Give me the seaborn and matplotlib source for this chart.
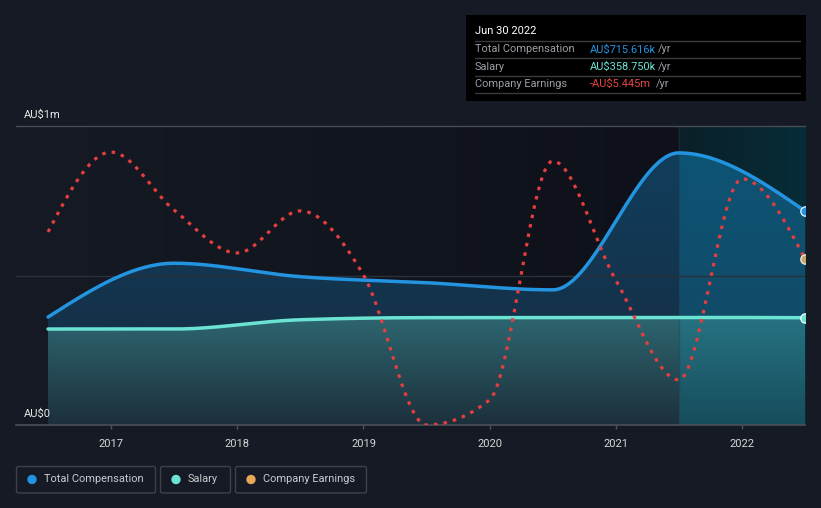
import numpy as np
import pandas as pd
import seaborn as sns
import matplotlib.pyplot as plt
from matplotlib.patches import FancyBboxPatch, Rectangle
from matplotlib.colors import LinearSegmentedColormap
from matplotlib.transforms import IdentityTransform

# compensation is yearly (Jun 30), earnings half-yearly
comp_period = [2016.5, 2017.5, 2018.5, 2019.5, 2020.5, 2021.5, 2022.5]
total_comp_k = [361, 541, 496, 476, 452, 910, 715.616]
salary_k = [321, 321, 352, 359, 359, 360, 358.75]

earn_period = [2016.5, 2017.0, 2017.5, 2018.0, 2018.5, 2019.0, 2019.5,
               2020.0, 2020.5, 2021.0, 2021.5, 2022.0, 2022.5]
earnings_m = [-4.38, -1.23, -3.52, -5.21, -3.55, -6.08, -12.0,
              -11.01, -1.58, -6.28, -10.22, -2.29, -5.445]
year_ticks = [2017, 2018, 2019, 2020, 2021, 2022]

W, H = 821, 508
BG = "#151a24"
BLUE = "#2394df"
CYAN = "#6be3d3"
RED = "#e53e3e"
ORANGE = "#e8a857"


def monotone(x, y, n=60):
    # monotone cubic (same idea as d3 curveMonotoneX) so the lines look smooth
    x = np.asarray(x, float)
    y = np.asarray(y, float)
    h = np.diff(x)
    s = np.diff(y) / h
    t = np.zeros_like(y)
    for i in range(1, len(y) - 1):
        p = (s[i - 1] * h[i] + s[i] * h[i - 1]) / (h[i - 1] + h[i])
        sg = (1 if s[i - 1] >= 0 else -1) + (1 if s[i] >= 0 else -1)
        t[i] = sg * min(abs(s[i - 1]), abs(s[i]), 0.5 * abs(p))
    t[0] = (3 * s[0] - t[1]) / 2
    t[-1] = (3 * s[-1] - t[-2]) / 2
    xs, ys = [], []
    for i in range(len(h)):
        u = np.linspace(0, 1, n, endpoint=(i == len(h) - 1))
        h00 = 2 * u**3 - 3 * u**2 + 1
        h10 = u**3 - 2 * u**2 + u
        h01 = -2 * u**3 + 3 * u**2
        h11 = u**3 - u**2
        ys.append(h00 * y[i] + h10 * h[i] * t[i] + h01 * y[i + 1] + h11 * h[i] * t[i + 1])
        xs.append(x[i] + u * h[i])
    return np.concatenate(xs), np.concatenate(ys)


cx, tot = monotone(comp_period, np.array(total_comp_k) / 1000)
_, sal = monotone(comp_period, np.array(salary_k) / 1000)
comp = pd.DataFrame({"x": cx, "total": tot, "salary": sal})
ex, earn = monotone(earn_period, earnings_m, n=30)
earn_df = pd.DataFrame({"x": ex, "earnings": earn})

sns.set_theme(style="dark")
plt.rcParams["font.family"] = ["Roboto", "DejaVu Sans"]

fig = plt.figure(figsize=(W / 100, H / 100), dpi=100, facecolor=BG)
ax = fig.add_axes([16 / W, (H - 425) / H, (805 - 16) / W, 299 / H])
ax.set_facecolor(BG)
x_left = 2016.5 - 32 / 126
x_hl = 2021.5
x_end = 2022.5


def hgrad(ax, c0, c1, x0, x1, z):
    cmap = LinearSegmentedColormap.from_list("", [c0, c1])
    ax.imshow(np.linspace(0, 1, 1024).reshape(1, -1), cmap=cmap, aspect="auto",
              origin="lower", extent=[x0, x1, 0, 1], zorder=z, interpolation="nearest")


def vgrad_fill(ax, x, y, bot, top, x0, x1, ymax, z):
    poly = ax.fill_between(x, 0, y, color="none", lw=0)
    cmap = LinearSegmentedColormap.from_list("", [bot, top])
    img = ax.imshow(np.linspace(0, 1, 1024).reshape(-1, 1), cmap=cmap, aspect="auto",
                    origin="lower", extent=[x0, x1, 0, ymax], zorder=z,
                    interpolation="nearest")
    img.set_clip_path(poly.get_paths()[0], transform=ax.transData)


# backgrounds
hgrad(ax, "#151a24", "#0e1119", x_left, x_hl, 0.1)
hgrad(ax, "#0b1f28", "#062d38", x_hl, x_end, 0.2)

# area fills
vgrad_fill(ax, comp["x"], comp["total"], "#172a3f", "#10405f", 2016.5, x_end, 1.0, 1)
vgrad_fill(ax, comp["x"], comp["total"], "#134660", "#0d5577", x_hl, x_end, 1.0, 1.1)
vgrad_fill(ax, comp["x"], comp["salary"], "#1c303b", "#2d6670", 2016.5, x_end, 0.36, 1.2)
vgrad_fill(ax, comp["x"], comp["salary"], "#174c5c", "#267382", x_hl, x_end, 0.36, 1.3)

ax.axhline(0.5, color="#2b313b", lw=1, zorder=1.4)
ax.axvline(x_hl, color="#1f3d4b", lw=1, alpha=0.45, zorder=1.5)

sns.lineplot(data=comp, x="x", y="total", ax=ax, color=BLUE, lw=2.5, estimator=None, zorder=3)
sns.lineplot(data=comp, x="x", y="salary", ax=ax, color=CYAN, lw=2.5, estimator=None, zorder=3)
ax.scatter([comp_period[-1]], [total_comp_k[-1] / 1000], s=45, color=BLUE,
           edgecolor="#d8ecff", lw=1, zorder=5)
ax.scatter([comp_period[-1]], [salary_k[-1] / 1000], s=45, color=CYAN,
           edgecolor="#e8fffb", lw=1, zorder=5)

ax.set_xlim(x_left, x_end)
ax.set_ylim(0, 1)
ax.set_xlabel("")
ax.set_ylabel("")
ax.set_yticks([])
ax.set_xticks(year_ticks)
ax.set_xticklabels([str(y) for y in year_ticks])
ax.tick_params(axis="x", colors="#4b5059", length=3, width=1, pad=7,
               labelcolor="#d6d6d6", labelsize=8, bottom=True)
for side in ["left", "right"]:
    ax.spines[side].set_visible(False)
ax.spines["bottom"].set_color("#4b5059")
ax.spines["bottom"].set_linewidth(1.2)
ax.spines["top"].set_color("#464b54")
ax.spines["top"].set_linewidth(1)
ax.grid(False)

# earnings on its own hidden scale
ax2 = ax.twinx()
sns.lineplot(data=earn_df, x="x", y="earnings", ax=ax2, color=RED, lw=2.3,
             estimator=None, linestyle=(0, (1.1, 1.9)), zorder=4)
ax2.scatter([earn_period[-1]], [earnings_m[-1]], s=45, color="#c4a46c",
            edgecolor="#f0e6d0", lw=1, zorder=5)
ax2.set_ylim(-12, -0.2)
ax2.set_xlim(x_left, x_end)
ax2.set_ylabel("")
ax2.set_yticks([])
ax2.grid(False)
for sp in ax2.spines.values():
    sp.set_visible(False)


def ptext(x, y, s, **kw):
    fig.text(x, H - y, s, transform=IdentityTransform(), **kw)


ptext(24, 115, "AU$1m", color="#e6e6e6", fontsize=8, va="center")
ptext(24, 414, "AU$0", color="#e6e6e6", fontsize=8, va="center")

# tooltip box
fig.add_artist(Rectangle((466, H - 101), 340, 86, transform=IdentityTransform(),
                         facecolor="#000000", edgecolor="none"))
ptext(475, 31, "Jun 30 2022", color="#ffffff", fontsize=8, va="center")
for yy in [41, 58, 76, 93]:
    fig.add_artist(plt.Line2D([475, 800], [H - yy, H - yy], transform=IdentityTransform(),
                              color="#3a3a3a", lw=1))
rows = [("Total Compensation", "AU$715.616k", BLUE, 49.5, 658),
        ("Salary", "AU$358.750k", CYAN, 66.5, 658),
        ("Company Earnings", "-AU$5.445m", "#e84545", 84, 656)]
for lab, val, col, yy, xr in rows:
    ptext(475, yy, lab, color="#9a9ea4", fontsize=7.9, va="center")
    ptext(590, yy, val, color=col, fontsize=7.9, va="center")
    ptext(xr, yy, "/yr", color="#9a9ea4", fontsize=7.9, va="center")

# legend boxes
legend = [("Total Compensation", BLUE, 16.5, 139, 32, 44),
          ("Salary", CYAN, 160.5, 70, 176, 188),
          ("Company Earnings", ORANGE, 235.5, 131, 251, 263)]
for lab, col, x0, w, xd, xt in legend:
    fig.add_artist(FancyBboxPatch((x0, H - 493), w, 26.5, transform=IdentityTransform(),
                                  boxstyle="round,pad=0,rounding_size=2",
                                  facecolor="none", edgecolor="#3c414b", lw=1))
    fig.add_artist(plt.Circle((xd, H - 479.5), 4, transform=IdentityTransform(),
                              color=col))
    ptext(xt, 479.5, lab, color="#c8cacd", fontsize=7.9, va="center")

fig.savefig("out.png", dpi=100, facecolor=BG)
